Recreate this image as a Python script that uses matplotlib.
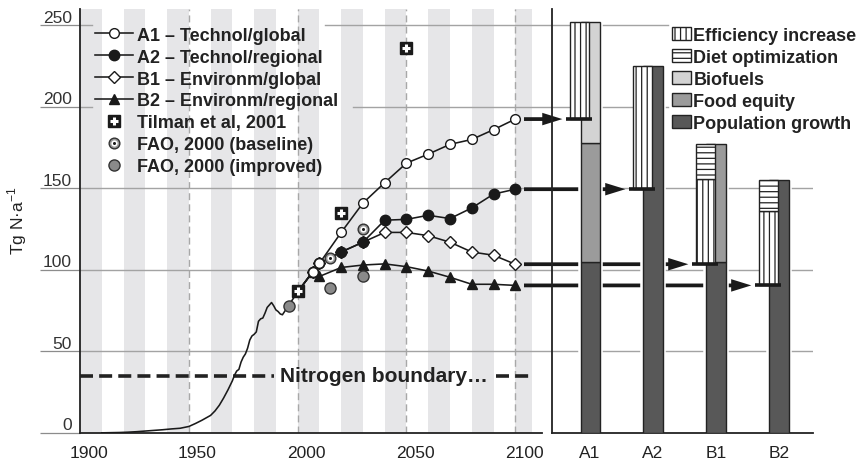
import numpy as np
import matplotlib
matplotlib.use("Agg")
import matplotlib.pyplot as plt
from matplotlib.lines import Line2D
from matplotlib.patches import Patch
from matplotlib.legend_handler import HandlerTuple
from matplotlib.transforms import ScaledTranslation

plt.rcParams["font.family"] = ["Liberation Sans", "DejaVu Sans"]
plt.rcParams["mathtext.fontset"] = "custom"
plt.rcParams["mathtext.rm"] = "Liberation Sans"
plt.rcParams["hatch.linewidth"] = 0.9
plt.rcParams["hatch.color"] = "#222222"

# ---------------- data ----------------
# historical fertiliser nitrogen use (Tg N per year)
hist_years = [1910, 1914, 1918, 1922, 1926, 1930, 1934, 1938, 1942, 1946, 1950,
              1953, 1956, 1958, 1960, 1962, 1964, 1966, 1968, 1970, 1971, 1972,
              1973, 1974, 1975, 1976, 1977, 1978, 1979, 1980, 1981, 1982, 1983,
              1984, 1985, 1986, 1987, 1988, 1989, 1990, 1991, 1992, 1993, 1994,
              1995, 1996, 1997, 1998, 1999, 2000]
hist_n = [0.1, 0.2, 0.3, 0.5, 0.8, 1.2, 1.6, 2.0, 2.5, 2.9, 4.0,
          5.8, 7.8, 9.3, 10.8, 13.5, 17.0, 21.5, 26.5, 32.0, 35.5, 38.0,
          39.0, 43.5, 46.5, 48.5, 52.0, 57.0, 59.5, 60.5, 62.0, 68.5, 70.0,
          70.5, 73.5, 77.0, 78.5, 80.0, 78.0, 75.5, 74.5, 73.0, 72.5, 74.5,
          76.5, 78.5, 80.5, 82.5, 84.5, 86.5]

# scenario projections
scen_years = [2000, 2007, 2010, 2020, 2030, 2040, 2050, 2060, 2070, 2080, 2090, 2100]
a1_n = [86.5, 99, 104, 123, 141, 153.5, 165.5, 171, 177, 180, 186, 192.5]
a2_n = [86.5, 99, 104, 111, 117, 130.5, 131, 133.5, 131.5, 138, 146.5, 149.5]
b1_n = [86.5, 99, 104, 111, 117, 123, 123, 121, 117, 111, 109, 103.5]
b2_n = [86.5, 99, 96, 101.5, 103, 103.7, 102, 99.3, 95.5, 91.2, 91.2, 90.5]

tilman_years = [2000, 2020, 2050]
tilman_n = [87, 135, 236]
fao_base_years = [2015, 2030]
fao_base_n = [107.5, 125]
fao_impr_years = [1996, 2015, 2030]
fao_impr_n = [78, 89, 96.5]

boundary_n = 35

# bar panel: components of 2100 nitrogen use
bar_cats = ["A1", "A2", "B1", "B2"]
population_growth = [105, 225, 105, 155]
food_equity = [73, 0, 72, 0]
biofuels = [74, 0, 0, 0]
efficiency_increase = [59.5, 75.5, 52.5, 45.5]
diet_optimization = [0, 0, 21, 19]

# ---------------- figure ----------------
W, H = 866, 464
fig = plt.figure(figsize=(W / 100, H / 100), dpi=100)
ax1 = fig.add_axes([80 / W, 30 / H, 471.7 / W, 424 / H])
ax2 = fig.add_axes([551.7 / W, 30 / H, 261.3 / W, 424 / H])
ax2.patch.set_alpha(0)

YMAX = 260
INK = "#1a1a1a"
GRID = "#a3a3a3"
STRIPE = "#e6e6e8"

ax1.set_xlim(1900, 1900 + 471.7 / 2.1765)
ax1.set_ylim(0, YMAX)

# decade stripes
for s in range(1900, 2101, 20):
    ax1.axvspan(s, min(s + 10, 2107.5), color=STRIPE, lw=0, zorder=0)

# dashed marker years
for yr in [1950, 2000, 2050, 2100]:
    ax1.axvline(yr, color="#a8a8a8", lw=1.0, ls=(0, (5, 3)), zorder=0.5)

# horizontal grid (interrupted behind the legends)
for v in [50, 100, 150]:
    ax1.axhline(v, color=GRID, lw=1, zorder=0.6)
    ax2.axhline(v, color=GRID, lw=1, zorder=0.6)
ax1.axhline(200, xmax=0.026, color=GRID, lw=1, zorder=0.6)
ax1.axhline(200, xmin=0.579, color=GRID, lw=1, zorder=0.6)
ax1.axhline(250, xmax=0.026, color=GRID, lw=1, zorder=0.6)
ax1.axhline(250, xmin=0.519, color=GRID, lw=1, zorder=0.6)
for v in [200, 250]:
    ax2.axhline(v, xmax=0.445, color=GRID, lw=1, zorder=0.6)

# nitrogen boundary
ax1.plot([1900, 1989], [boundary_n, boundary_n], color="#222222", lw=2.6,
         ls=(0, (3.6, 1.7)), zorder=2)
ax1.plot([2091, 2107], [boundary_n, boundary_n], color="#222222", lw=2.6,
         ls=(0, (3.6, 1.7)), zorder=2)
ax1.text(1992, boundary_n, "Nitrogen boundary…", fontsize=15, fontweight="bold",
         va="center", ha="left", color="#222222", zorder=3)

# history and scenarios
LW = 1.15
ax1.plot(hist_years, hist_n, color=INK, lw=LW, zorder=3)
sty = dict(color=INK, lw=LW, mec=INK, mew=1.0, markevery=slice(1, None), zorder=4)
ax1.plot(scen_years, b2_n, marker="^", ms=7, mfc=INK, **sty)
ax1.plot(scen_years, b1_n, marker="D", ms=6.3, mfc="white", **sty)
ax1.plot(scen_years, a2_n, marker="o", ms=7.5, mfc=INK, **sty)
ax1.plot(scen_years, a1_n, marker="o", ms=7, mfc="white", **sty)

# literature estimates
ax1.plot(fao_impr_years, fao_impr_n, ls="none", marker="o", ms=8, mfc="#8a8a8a",
         mec="#333333", mew=1, zorder=5)
ax1.plot(fao_base_years, fao_base_n, ls="none", marker="o", ms=7.7, mfc="#9a9a9a",
         mec="#333333", mew=1, zorder=5)
ax1.plot(fao_base_years, fao_base_n, ls="none", marker="o", ms=4.5, mfc="white",
         mec="none", zorder=5.1)
ax1.plot(fao_base_years, fao_base_n, ls="none", marker="o", ms=2.2, mfc=INK,
         mec="none", zorder=5.2)
ax1.plot(tilman_years, tilman_n, ls="none", marker="s", ms=8, mfc=INK, mec=INK,
         zorder=5)
ax1.plot(tilman_years, tilman_n, ls="none", marker="+", ms=6, mew=2.2,
         color="white", zorder=5.1)

# axes styling
for sp in ["top", "right"]:
    ax1.spines[sp].set_visible(False)
    ax2.spines[sp].set_visible(False)
for ax in (ax1, ax2):
    ax.spines["left"].set_color("#222222")
    ax.spines["bottom"].set_color("#222222")
    ax.spines["left"].set_linewidth(1.3)
    ax.spines["bottom"].set_linewidth(1.3)
ax1.spines["bottom"].set_bounds(1900, 2112.3)

ax1.set_xticks([1900, 1950, 2000, 2050, 2100])
ax1.tick_params(axis="x", length=0, pad=9, labelsize=12.5, labelcolor="#222222")
shift = ScaledTranslation(8.7 / 100, 0, fig.dpi_scale_trans)
for lab in ax1.get_xticklabels():
    lab.set_transform(lab.get_transform() + shift)

yt = [0, 50, 100, 150, 200, 250]
ax1.set_yticks(yt)
ax1.tick_params(axis="y", length=28.8, width=0.9, color="#8c8c8c",
                direction="out", labelleft=False)
lab_tr = ax1.get_yaxis_transform() + ScaledTranslation(-8 / 100, 3.5 / 100,
                                                       fig.dpi_scale_trans)
for v in yt:
    ax1.text(0, v, str(v), transform=lab_tr, ha="right", va="baseline",
             fontsize=12.5, color="#333333")

fig.text(17 / W, 1 - 221 / H, "Tg N·a$^{-1}$", rotation=90, ha="center",
         va="center", fontsize=12.5, color="#222222")

# left legend
mk = dict(color=INK, lw=LW, mec=INK, mew=1.0)
handles1 = [
    Line2D([], [], marker="o", ms=7, mfc="white", **mk),
    Line2D([], [], marker="o", ms=7.5, mfc=INK, **mk),
    Line2D([], [], marker="D", ms=6.3, mfc="white", **mk),
    Line2D([], [], marker="^", ms=7, mfc=INK, **mk),
    (Line2D([], [], ls="none", marker="s", ms=8, mfc=INK, mec=INK),
     Line2D([], [], ls="none", marker="+", ms=6, mew=2.2, color="white")),
    (Line2D([], [], ls="none", marker="o", ms=7.7, mfc="#9a9a9a", mec="#333333", mew=1),
     Line2D([], [], ls="none", marker="o", ms=4.5, mfc="white", mec="none"),
     Line2D([], [], ls="none", marker="o", ms=2.2, mfc=INK, mec="none")),
    Line2D([], [], ls="none", marker="o", ms=8, mfc="#8a8a8a", mec="#333333", mew=1),
]
labels1 = ["A1 – Technol/global", "A2 – Technol/regional", "B1 – Environm/global",
           "B2 – Environm/regional", "Tilman et al, 2001", "FAO, 2000 (baseline)",
           "FAO, 2000 (improved)"]
leg1 = ax1.legend(handles1, labels1, loc="upper left", bbox_to_anchor=(0.0318, 0.958),
                  frameon=False, borderpad=0, borderaxespad=0, handlelength=2.1,
                  handletextpad=0.22, labelspacing=0.27,
                  prop=dict(weight="bold", size=13),
                  handler_map={tuple: HandlerTuple(ndivide=1, pad=0)})
for t in leg1.get_texts():
    t.set_color("#222222")

# ---------------- bar panel ----------------
C_POP, C_EQ, C_BIO = "#585858", "#9b9b9b", "#d3d3d3"
EDGE = "#222222"
xc = np.arange(len(bar_cats))
pop = np.array(population_growth, float)
eq = np.array(food_equity, float)
bio = np.array(biofuels, float)
eff = np.array(efficiency_increase, float)
diet = np.array(diet_optimization, float)
end_2100 = np.array([a1_n[-1], a2_n[-1], b1_n[-1], b2_n[-1]])

main_w = 0.305
h_off, h_w = -0.167, 0.297

ax2.set_xlim(-0.61, 3.54)
ax2.set_ylim(0, YMAX)

# white halo behind each main bar
ax2.bar(xc, pop + eq + bio, width=main_w, color="white", edgecolor="white",
        lw=4, zorder=2)


def draw_part(xpos, vals, bottoms, width, **kw):
    m = vals > 0
    ax2.bar(xpos[m], vals[m], bottom=bottoms[m], width=width, edgecolor=EDGE,
            lw=1, **kw)


draw_part(xc, pop, np.zeros_like(pop), main_w, color=C_POP, zorder=3)
draw_part(xc, eq, pop, main_w, color=C_EQ, zorder=3)
draw_part(xc, bio, pop + eq, main_w, color=C_BIO, zorder=3)
draw_part(xc + h_off, eff, end_2100, h_w, color="white", hatch="|||", zorder=4)
draw_part(xc + h_off, diet, end_2100 + eff, h_w, color="white", hatch="---", zorder=4)

ax2.hlines(end_2100, xc - 0.38, xc + 0.03, color=INK, lw=2.6, zorder=6)

for i, v in enumerate(end_2100):
    ax2.annotate("", xy=(xc[i] - 0.44, v), xycoords="data",
                 xytext=(2104, v), textcoords=ax1.transData,
                 arrowprops=dict(arrowstyle="simple,head_length=1.45,head_width=0.9,tail_width=0.27",
                                 mutation_scale=10, lw=0, color=INK,
                                 shrinkA=0, shrinkB=0, clip_on=False),
                 annotation_clip=False, zorder=1)

ax2.set_yticks([])
ax2.set_xticks(xc)
ax2.set_xticklabels(bar_cats)
ax2.tick_params(axis="x", length=0, pad=9, labelsize=12.5, labelcolor="#222222")

handles2 = [Patch(facecolor="white", edgecolor=EDGE, hatch="|||"),
            Patch(facecolor="white", edgecolor=EDGE, hatch="---"),
            Patch(facecolor=C_BIO, edgecolor=EDGE),
            Patch(facecolor=C_EQ, edgecolor=EDGE),
            Patch(facecolor=C_POP, edgecolor=EDGE)]
labels2 = ["Efficiency increase", "Diet optimization", "Biofuels", "Food equity",
           "Population growth"]
leg2 = ax2.legend(handles2, labels2, loc="upper left", bbox_to_anchor=(0.459, 0.958),
                  frameon=False, borderpad=0, borderaxespad=0, handlelength=1.05,
                  handleheight=0.78, handletextpad=0.15, labelspacing=0.27,
                  prop=dict(weight="bold", size=13))
for t in leg2.get_texts():
    t.set_color("#222222")

fig.savefig("out.png", dpi=100)
